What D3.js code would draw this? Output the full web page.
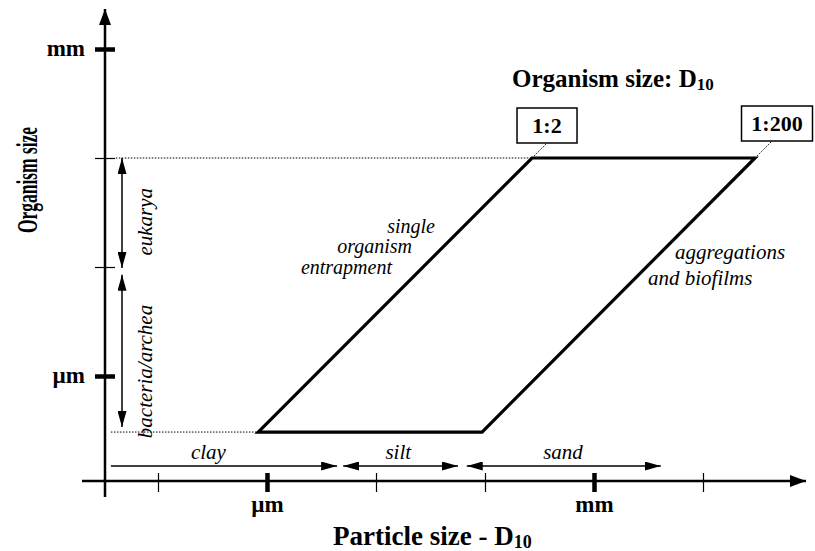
<!DOCTYPE html>
<html>
<head>
<meta charset="utf-8">
<script src="https://cdn.jsdelivr.net/npm/d3@7"></script>
<style>
  body { margin: 0; background: #fff; }
  svg { display: block; }
  text { fill: #000; }
  .bold { font-family: "Liberation Serif", "Times New Roman", serif; font-weight: bold; }
  .ital { font-family: "Liberation Serif", "Times New Roman", serif; font-style: italic; }
</style>
</head>
<body>
<svg width="815" height="551"></svg>
<script>
// values in metres (both axes are log scales)
var particleTicks = [1e-7, 1e-6, 1e-5, 1e-4, 1e-3, 1e-2];
var particleTickLabels = ["", "\u00b5m", "", "", "mm", ""];
var particleMajor = [false, true, false, false, true, false];
var organismTicks = [1e-6, 1e-5, 1e-4, 1e-3];
var organismTickLabels = ["\u00b5m", "", "", "mm"];
var organismMajor = [true, false, false, true];

var organismRange = [3.06e-7, 1e-4];          // bottom and top of the window
var ratioLabels = ["1:2", "1:200"];
var ratioParticleLow = [8.3e-7, 9.4e-5];     // particle D10 at smallest organism
var ratioParticleHigh = [2.7e-4, 3.0e-2];    // particle D10 at largest organism
var guideStart = [4.1e-8, 3.7e-8];            // dotted guides start (top, bottom)

var organismGroups = ["eukarya", "bacteria/archea"];
var organismGroupRanges = [[9.8e-6, 1e-4], [3.4e-7, 8.5e-6]];
var organismGroupLabelAt = [2.6e-5, 1.1e-6];

var soilClasses = ["clay", "silt", "sand"];
var soilRanges = [[3.7e-8, 4.4e-6], [5.0e-6, 5.65e-5], [6.8e-5, 4.1e-3]];
var soilArrowStart = [false, true, true];
var soilLabelAt = [2.9e-7, 1.6e-5, 5.2e-4];

var svg = d3.select("svg");

var x = d3.scaleLog().domain([1e-6, 1e-3]).range([267, 594]),
    y = d3.scaleLog().domain([1e-6, 1e-3]).range([376, 49]);

var x0 = 105, y0 = 481;   // where the two axes cross

// arrow heads
var defs = svg.append("defs");
defs.append("marker").attr("id", "axhead")
  .attr("viewBox", "0 0 16 12").attr("refX", 16).attr("refY", 6)
  .attr("markerUnits", "userSpaceOnUse").attr("markerWidth", 16).attr("markerHeight", 12)
  .attr("orient", "auto-start-reverse")
  .append("path").attr("d", "M0,0L16,6L0,12Z");
defs.append("marker").attr("id", "head")
  .attr("viewBox", "0 0 16 9").attr("refX", 16).attr("refY", 4.5)
  .attr("markerUnits", "userSpaceOnUse").attr("markerWidth", 16).attr("markerHeight", 9)
  .attr("orient", "auto-start-reverse")
  .append("path").attr("d", "M0,0L16,4.5L0,9Z");

// axis lines
svg.append("line").attr("x1", 82).attr("y1", y0).attr("x2", 806).attr("y2", y0)
  .attr("stroke", "#000").attr("stroke-width", 2.5).attr("marker-end", "url(#axhead)");
svg.append("line").attr("x1", x0).attr("y1", 497).attr("x2", x0).attr("y2", 9)
  .attr("stroke", "#000").attr("stroke-width", 2.5).attr("marker-end", "url(#axhead)");

// ticks + labels through d3 axes
var gx = svg.append("g").attr("transform", "translate(0," + (y0 - 8) + ")")
  .call(d3.axisBottom(x).tickValues(particleTicks).tickSize(19).tickPadding(4)
    .tickFormat(function(d, i) { return particleTickLabels[i]; }));
gx.select(".domain").remove();
gx.selectAll(".tick line").attr("stroke", "#000")
  .attr("stroke-width", function(d, i) { return particleMajor[i] ? 4.5 : 1.2; });
gx.selectAll(".tick text").attr("class", "bold").attr("font-size", 23);

var gy = svg.append("g").attr("transform", "translate(" + (x0 + 10) + ",0)")
  .call(d3.axisLeft(y).tickValues(organismTicks).tickSize(20).tickPadding(10)
    .tickFormat(function(d, i) { return organismTickLabels[i]; }));
gy.select(".domain").remove();
gy.selectAll(".tick line").attr("stroke", "#000")
  .attr("stroke-width", function(d, i) { return organismMajor[i] ? 4.5 : 1.2; });
gy.selectAll(".tick text").attr("class", "bold").attr("font-size", 23).attr("dy", "0.3em");

// axis titles
svg.append("text").attr("class", "bold").attr("font-size", 27)
  .attr("x", 333).attr("y", 545)
  .text("Particle size - D")
  .append("tspan").attr("font-size", 18).attr("dy", 3).text("10");

svg.append("text").attr("class", "bold").attr("font-size", 30)
  .attr("text-anchor", "middle")
  .attr("textLength", 106).attr("lengthAdjust", "spacingAndGlyphs")
  .attr("transform", "translate(37,180) rotate(-90)")
  .text("Organism size");

var title = svg.append("text").attr("class", "bold").attr("font-size", 25)
  .attr("x", 512).attr("y", 87).text("Organism size: D");
title.append("tspan").attr("font-size", 17).attr("dy", 3).text("10");

// dotted guides from the axis to the window corners
var topY = y(organismRange[1]), botY = y(organismRange[0]);
svg.append("line").attr("x1", x(guideStart[0])).attr("x2", x(ratioParticleHigh[0]))
  .attr("y1", topY).attr("y2", topY)
  .attr("stroke", "#000").attr("stroke-width", 1).attr("stroke-dasharray", "1.5,1.5");
svg.append("line").attr("x1", x(guideStart[1])).attr("x2", x(ratioParticleLow[0]))
  .attr("y1", botY).attr("y2", botY)
  .attr("stroke", "#000").attr("stroke-width", 1).attr("stroke-dasharray", "1.5,1.5");

// the window of possible clogging
var corners = [
  [ratioParticleLow[0], organismRange[0]],
  [ratioParticleHigh[0], organismRange[1]],
  [ratioParticleHigh[1], organismRange[1]],
  [ratioParticleLow[1], organismRange[0]]
];
svg.append("path")
  .attr("d", d3.line().x(function(d) { return x(d[0]); }).y(function(d) { return y(d[1]); })(corners) + "Z")
  .attr("fill", "none").attr("stroke", "#000").attr("stroke-width", 3.2)
  .attr("stroke-linejoin", "miter");

// ratio boxes at the end of dotted extensions
var boxW = [60, 71], boxH = 35, ext = [15, 17], boxShift = [0, 5];
ratioLabels.forEach(function(lab, i) {
  var cx = x(ratioParticleHigh[i]), cy = topY;
  var ex = cx + ext[i], ey = cy - ext[i];
  svg.append("line").attr("x1", cx).attr("y1", cy).attr("x2", ex).attr("y2", ey)
    .attr("stroke", "#000").attr("stroke-width", 1).attr("stroke-dasharray", "1.5,1.5");
  var bx = ex + boxShift[i];
  svg.append("rect").attr("x", bx - boxW[i] / 2).attr("y", ey - boxH)
    .attr("width", boxW[i]).attr("height", boxH)
    .attr("fill", "#fff").attr("stroke", "#000").attr("stroke-width", 1.5);
  svg.append("text").attr("class", "bold").attr("font-size", 22)
    .attr("text-anchor", "middle").attr("x", bx).attr("y", ey - 10).text(lab);
});

// annotations on the window
var single = [["single", 435, 233], ["organism", 412, 253], ["entrapment", 392, 274]];
single.forEach(function(s) {
  svg.append("text").attr("class", "ital").attr("font-size", 20)
    .attr("text-anchor", "end").attr("x", s[1]).attr("y", s[2]).text(s[0]);
});
var aggr = [["aggregations", 675, 259], ["and biofilms", 648, 285]];
aggr.forEach(function(s) {
  svg.append("text").attr("class", "ital").attr("font-size", 21)
    .attr("x", s[1]).attr("y", s[2]).text(s[0]);
});

// organism groups along the y axis
var gArrowX = 122;
organismGroups.forEach(function(name, i) {
  var r = organismGroupRanges[i];
  svg.append("line").attr("x1", gArrowX).attr("x2", gArrowX)
    .attr("y1", y(r[0])).attr("y2", y(r[1]))
    .attr("stroke", "#000").attr("stroke-width", 1.5)
    .attr("marker-start", "url(#head)").attr("marker-end", "url(#head)");
  svg.append("text").attr("class", "ital").attr("font-size", 21)
    .attr("text-anchor", "middle")
    .attr("transform", "translate(152," + y(organismGroupLabelAt[i]) + ") rotate(-90)")
    .text(name);
});

// soil classes along the x axis
var sArrowY = 466;
soilClasses.forEach(function(name, i) {
  var r = soilRanges[i];
  var ln = svg.append("line").attr("x1", x(r[0])).attr("x2", x(r[1]))
    .attr("y1", sArrowY).attr("y2", sArrowY)
    .attr("stroke", "#000").attr("stroke-width", 1.5)
    .attr("marker-end", "url(#head)");
  if (soilArrowStart[i]) ln.attr("marker-start", "url(#head)");
  svg.append("text").attr("class", "ital").attr("font-size", 21)
    .attr("text-anchor", "middle").attr("x", x(soilLabelAt[i])).attr("y", 459)
    .text(name);
});
</script>
</body>
</html>
